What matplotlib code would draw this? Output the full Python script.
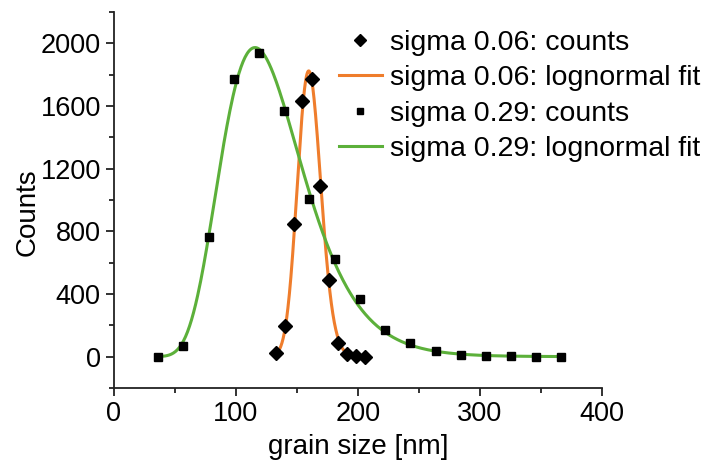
import numpy as np
import matplotlib
matplotlib.use("Agg")
import matplotlib.pyplot as plt
from matplotlib.ticker import MultipleLocator

plt.rcParams['font.family'] = ['Liberation Sans', 'DejaVu Sans']

# sigma 0.06: counts (diamonds)
x_006 = [132.8, 140.2, 147.3, 154.4, 162.0, 169.1, 176.2, 183.3, 190.7, 198.0, 205.7]
y_006 = [22, 196, 844, 1631, 1775, 1089, 489, 89, 17, 4, 0]

# sigma 0.29: counts (squares)
x_029 = [36.3, 56.8, 77.9, 98.1, 118.9, 139.6, 160.1, 181.4, 201.6, 222.0,
         242.9, 263.7, 284.4, 305.0, 325.4, 346.0, 366.4]
y_029 = [0, 68, 761, 1771, 1939, 1567, 1004, 621, 366, 170,
         89, 36, 13, 6, 6, 0, 0]

# lognormal fit parameters (peak position, height, width sigma)
fit_006 = dict(xc=159.6, h=1824, w=0.06)
fit_029 = dict(xc=115.6, h=1973, w=0.29)

orange = '#ef7d2c'
green = '#5cb03a'


def lognormal(x, xc, h, w):
    return h * np.exp(-np.log(x / xc) ** 2 / (2 * w ** 2))


fig = plt.figure(figsize=(7.07, 4.67), dpi=100)
ax = fig.add_axes([0.1612, 0.1692, 0.6903, 0.8051])

xf1 = np.linspace(x_006[0], x_006[-1], 300)
xf2 = np.linspace(x_029[0], x_029[-1], 400)

ax.plot(x_006, y_006, ls='none', marker='D', ms=7, color='black',
        label='sigma 0.06: counts', zorder=3)
ax.plot(xf1, lognormal(xf1, **fit_006), color=orange, lw=2.2,
        label='sigma 0.06: lognormal fit', zorder=2)
ax.plot(x_029, y_029, ls='none', marker='s', ms=5.3, color='black',
        label='sigma 0.29: counts', zorder=3)
ax.plot(xf2, lognormal(xf2, **fit_029), color=green, lw=2.2,
        label='sigma 0.29: lognormal fit', zorder=2)

ax.set_xlim(0, 400)
ax.set_ylim(-200, 2200)
ax.set_yticks([0, 400, 800, 1200, 1600, 2000])
ax.xaxis.set_major_locator(MultipleLocator(100))
ax.xaxis.set_minor_locator(MultipleLocator(50))
ax.yaxis.set_minor_locator(MultipleLocator(200))

for s in ['top', 'right']:
    ax.spines[s].set_visible(False)
for s in ['left', 'bottom']:
    ax.spines[s].set_linewidth(1.3)
    ax.spines[s].set_color('#222222')

ax.tick_params(which='major', length=5.5, width=1.3, labelsize=19.5, direction='out',
               color='#222222', pad=4)
ax.tick_params(which='minor', length=3.5, width=1.3, direction='out', color='#222222')

ax.set_xlabel('grain size [nm]', fontsize=20, labelpad=5)
ax.set_ylabel('Counts', fontsize=20)
ax.yaxis.set_label_coords(-0.15, 0.468)

leg = fig.legend(loc='upper left', bbox_to_anchor=(0.4795, 0.9358), frameon=False,
                 fontsize=20.5, handlelength=1.5, handletextpad=0.29,
                 labelspacing=0.33, borderaxespad=0, borderpad=0, markerscale=0.85)

fig.savefig('out.png', dpi=100)
